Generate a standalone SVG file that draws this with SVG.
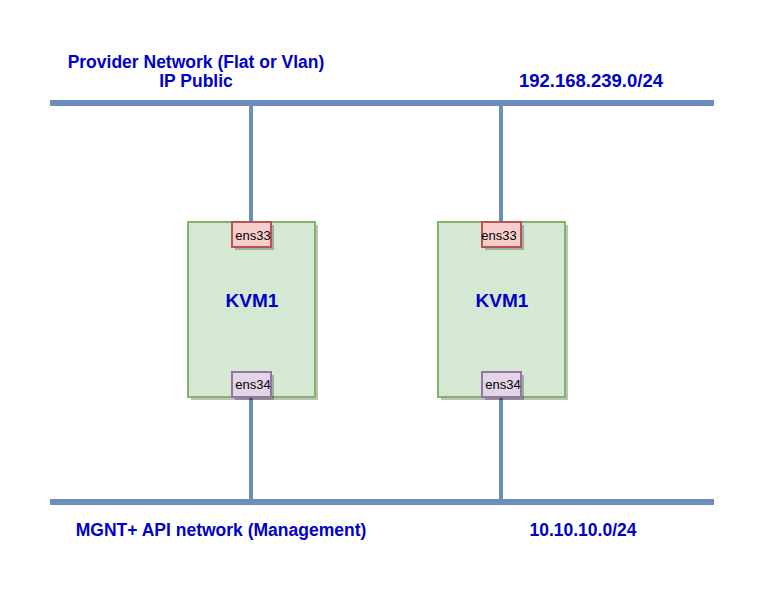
<svg xmlns="http://www.w3.org/2000/svg" width="768" height="596" viewBox="0 0 768 596">
<style>
.bus{stroke:#6c8ebf;stroke-width:6;fill:none}
.link{stroke:#6c8ebf;stroke-width:4;fill:none}
.host{fill:#d5e8d4;stroke:#82b366;stroke-width:2}
.shadow{fill:#000;opacity:0.25}
.p33{fill:#f8cecc;stroke:#b85450;stroke-width:2}
.p34{fill:#e1d5e7;stroke:#9673a6;stroke-width:2}
.lbl{font-family:"Liberation Sans",Arial,sans-serif;font-weight:bold;fill:#0000cc;font-size:17.5px;text-anchor:middle}
.kvm{font-family:"Liberation Sans",Arial,sans-serif;font-weight:bold;fill:#0000cc;font-size:19px;text-anchor:middle}
.port{font-family:"Liberation Sans",Arial,sans-serif;fill:#000;font-size:13px;text-anchor:middle}
</style>
<rect width="768" height="596" fill="#fff"/>
<g id="connectors">
<line class="bus" x1="50" y1="103" x2="714" y2="103"/>
<line class="bus" x1="50" y1="502" x2="714" y2="502"/>
<line class="link" x1="251" y1="103" x2="251" y2="222"/>
<line class="link" x1="501" y1="103" x2="501" y2="222"/>
<line class="link" x1="251" y1="397" x2="251" y2="502"/>
<line class="link" x1="501" y1="397" x2="501" y2="502"/>
</g>
<g id="host1">
<rect class="shadow" x="191" y="225" width="127" height="175"/>
<rect class="host" x="188" y="222" width="127" height="175"/>
<text class="kvm" x="252" y="307">KVM1</text>
</g>
<g id="host1-ens33">
<rect class="shadow" x="235" y="225" width="39" height="25"/>
<rect class="p33" x="232" y="222" width="39" height="25"/>
<text class="port" x="253" y="240">ens33</text>
</g>
<g id="host1-ens34">
<rect class="shadow" x="235" y="375" width="39" height="25"/>
<rect class="p34" x="232" y="372" width="39" height="25"/>
<text class="port" x="253" y="389">ens34</text>
</g>
<g id="host2">
<rect class="shadow" x="441" y="225" width="127" height="175"/>
<rect class="host" x="438" y="222" width="127" height="175"/>
<text class="kvm" x="502" y="307">KVM1</text>
</g>
<g id="host2-ens33">
<rect class="shadow" x="485" y="225" width="39" height="25"/>
<rect class="p33" x="482" y="222" width="39" height="25"/>
<text class="port" x="499" y="240">ens33</text>
</g>
<g id="host2-ens34">
<rect class="shadow" x="485" y="375" width="39" height="25"/>
<rect class="p34" x="482" y="372" width="39" height="25"/>
<text class="port" x="503" y="389">ens34</text>
</g>
<g id="labels">
<text class="lbl" x="196" y="68">Provider Network (Flat or Vlan)</text>
<text class="lbl" x="196" y="87">IP Public</text>
<text class="lbl" x="591" y="87" style="font-size:18.5px">192.168.239.0/24</text>
<text class="lbl" x="221" y="536">MGNT+ API network (Management)</text>
<text class="lbl" x="583" y="536">10.10.10.0/24</text>
</g>
</svg>
